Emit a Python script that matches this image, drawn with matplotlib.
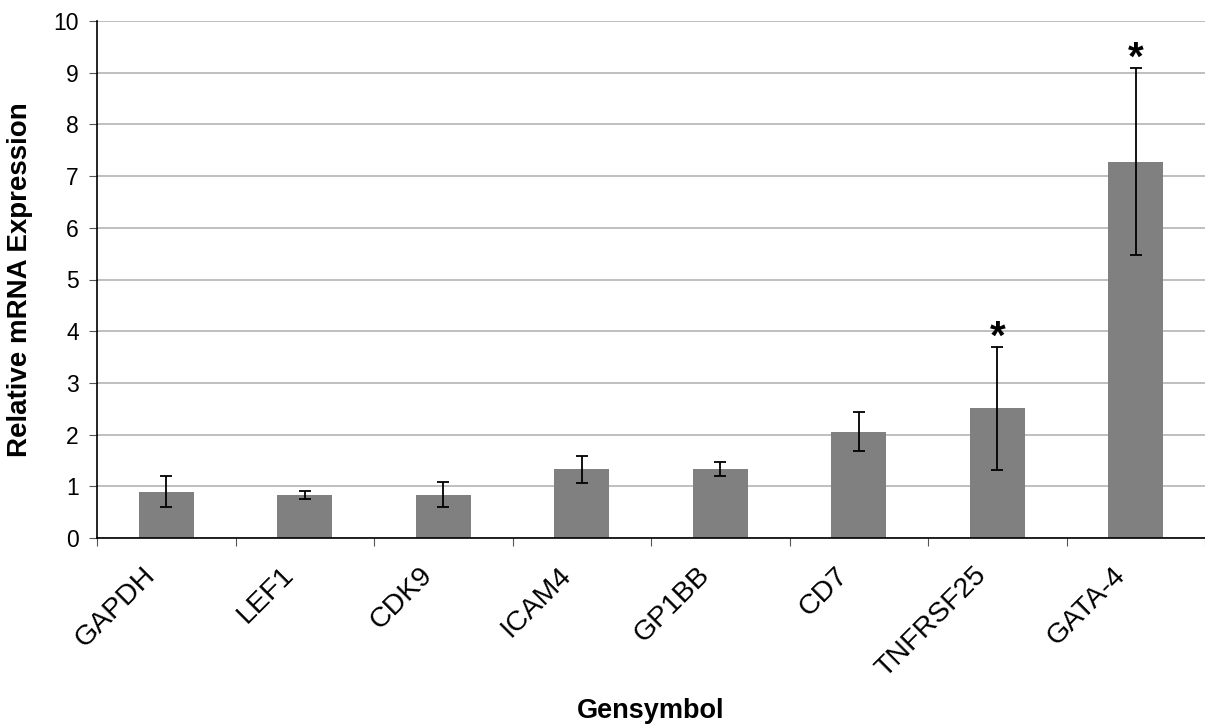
import matplotlib
matplotlib.use("Agg")
import matplotlib.pyplot as plt
import matplotlib.transforms as mtransforms
import numpy as np

plt.rcParams["font.family"] = ["Liberation Sans", "DejaVu Sans"]

# ---- данные ----
genes = ["GAPDH", "LEF1", "CDK9", "ICAM4", "GP1BB", "CD7", "TNFRSF25", "GATA-4"]
expr = [0.89, 0.83, 0.83, 1.33, 1.33, 2.05, 2.51, 7.27]
err_lo = [0.60, 0.75, 0.60, 1.06, 1.20, 1.68, 1.32, 5.47]
err_hi = [1.20, 0.91, 1.08, 1.59, 1.47, 2.44, 3.70, 9.10]
signif = [False, False, False, False, False, False, True, True]

W, H = 1205, 726
fig = plt.figure(figsize=(W / 100, H / 100), dpi=100)
ax = fig.add_axes([97 / W, 188 / H, 1108 / W, 517 / H])

x = np.arange(len(genes))
lo = np.array(expr) - np.array(err_lo)
hi = np.array(err_hi) - np.array(expr)

ax.bar(x, expr, width=0.4, color="#808080", zorder=2)
ax.errorbar(x, expr, yerr=[lo, hi], fmt="none", ecolor="black",
            elinewidth=1.3, capsize=4.5, capthick=1.3, zorder=3)

# звёздочки над значимыми
for xi, top, s in zip(x, err_hi, signif):
    if s:
        ax.annotate("*", (xi, top), xytext=(0, -2), textcoords="offset pixels",
                    ha="center", va="baseline", fontsize=29, fontweight="bold")

ax.set_ylim(0, 10)
ax.set_xlim(-0.5, 7.47)
ax.set_yticks(range(0, 11))
ax.yaxis.grid(True, color="#b4b4b4", linewidth=1.2, zorder=0)
ax.set_axisbelow(True)

# деления по границам категорий
ax.set_xticks(np.arange(len(genes) + 1) - 0.5)
ax.set_xticklabels([])
ax.tick_params(axis="x", length=6, color="#555555")
ax.tick_params(axis="y", length=6, color="#555555", labelsize=16.5, pad=7)

# подписи генов под 45°, чуть левее центра столбца
base = mtransforms.blended_transform_factory(ax.transData, ax.transAxes)
shift = mtransforms.ScaledTranslation(-24 / 100, -24 / 100, fig.dpi_scale_trans)
for xi, g in zip(x, genes):
    ax.text(xi, 0, g, transform=base + shift, rotation=45, ha="right", va="top",
            rotation_mode="anchor", fontsize=20.5, clip_on=False)

for side in ("top", "right"):
    ax.spines[side].set_visible(False)
for side in ("left", "bottom"):
    ax.spines[side].set_linewidth(1.2)

ax.set_ylabel("Relative mRNA Expression", fontsize=20, fontweight="bold")
ax.yaxis.set_label_coords(-64 / 1108, 0.5)
ax.set_xlabel("Gensymbol", fontsize=19.5, fontweight="bold")
ax.xaxis.set_label_coords(0.5, -160 / 517)

fig.savefig("out.png", dpi=100)
